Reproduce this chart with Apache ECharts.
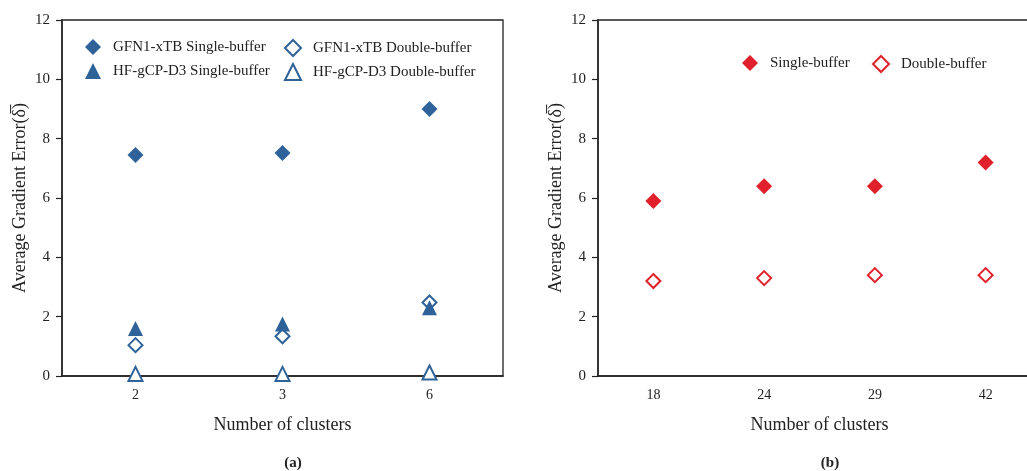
<!DOCTYPE html>
<html><head><meta charset="utf-8">
<script src="https://cdn.jsdelivr.net/npm/echarts@6/dist/echarts.min.js"></script>
<style>html,body{margin:0;padding:0;background:#fff}#c{width:1027px;height:471px}</style>
</head><body><div id="c"></div>
<script>
const catsA = ['2', '3', '6'];
const gfnSingle = [7.45, 7.52, 9.0];
const gfnDouble = [1.04, 1.34, 2.48];
const hfSingle = [1.6, 1.75, 2.3];
const hfDouble = [0.07, 0.07, 0.12];
const catsB = ['18', '24', '29', '42'];
const bSingle = [5.9, 6.4, 6.4, 7.2];
const bDouble = [3.2, 3.3, 3.4, 3.4];
const yTicks = [0, 2, 4, 6, 8, 10, 12];

const FONT = "'Liberation Serif', 'Times New Roman', serif";
const BLUE = '#2f6299';
const RED = '#e0202a';
const yName = 'Average Gradient Error(\u03B4\u0305)';

function xAx(idx, cats) {
  return {
    type: 'category', gridIndex: idx, data: cats, boundaryGap: true,
    name: 'Number of clusters', nameLocation: 'middle', nameGap: 40,
    nameTextStyle: {fontFamily: FONT, fontSize: 18, color: '#222'},
    axisLine: {lineStyle: {color: '#222', width: 1.5}},
    axisTick: {alignWithLabel: true, length: 5, lineStyle: {color: '#222', width: 1.2}},
    axisLabel: {fontFamily: FONT, fontSize: 14, color: '#222', margin: 12},
    splitLine: {show: false}
  };
}
function yAx(idx) {
  return {
    type: 'value', gridIndex: idx, min: 0, max: 12, interval: 2,
    name: yName, nameLocation: 'middle', nameGap: 33, nameRotate: 90,
    nameTextStyle: {fontFamily: FONT, fontSize: 18, color: '#222'},
    axisLine: {show: true, lineStyle: {color: '#222', width: 1.5}},
    axisTick: {show: true, length: 6, lineStyle: {color: '#222', width: 1.2}},
    axisLabel: {fontFamily: FONT, fontSize: 15, color: '#222', margin: 12,
      formatter: v => yTicks.includes(v) ? String(v) : ''},
    splitLine: {show: false}
  };
}
function leg(name, left, top) {
  return {data: [name], left: left, top: top, itemWidth: 16, itemHeight: 16, itemGap: 10,
    textStyle: {fontFamily: FONT, fontSize: 15, color: '#222', padding: [0, 0, 0, 7]}, padding: 0};
}
const chart = echarts.init(document.getElementById('c'), null, {renderer: 'canvas'});
chart.setOption({
  animation: false,
  backgroundColor: '#fff',
  grid: [
    {left: 62, top: 20, width: 441, height: 356, outerBoundsMode: 'none', show: true, borderColor: '#222', borderWidth: 1.3, backgroundColor: 'transparent'},
    {left: 598, top: 20, width: 443, height: 356, outerBoundsMode: 'none', show: true, borderColor: '#222', borderWidth: 1.3, backgroundColor: 'transparent'}
  ],
  xAxis: [xAx(0, catsA), xAx(1, catsB)],
  yAxis: [yAx(0), yAx(1)],
  title: [
    {text: '(a)', left: 288, top: 451, textAlign: 'center', textStyle: {fontFamily: FONT, fontSize: 15, fontWeight: 'bold', color: '#222'}},
    {text: '(b)', left: 825, top: 451, textAlign: 'center', textStyle: {fontFamily: FONT, fontSize: 15, fontWeight: 'bold', color: '#222'}}
  ],
  legend: [
    leg('GFN1-xTB Single-buffer', 85, 39),
    leg('GFN1-xTB Double-buffer', 284, 39),
    leg('HF-gCP-D3 Single-buffer', 85, 63),
    leg('HF-gCP-D3 Double-buffer', 284, 63),
    leg('Single-buffer', 742, 55),
    leg('Double-buffer', 872, 55)
  ],
  series: [
    {name: 'GFN1-xTB Single-buffer', type: 'scatter', xAxisIndex: 0, yAxisIndex: 0, data: gfnSingle,
      symbol: 'diamond', symbolSize: 16, itemStyle: {color: BLUE, opacity: 1}},
    {name: 'GFN1-xTB Double-buffer', type: 'scatter', xAxisIndex: 0, yAxisIndex: 0, data: gfnDouble,
      symbol: 'emptyDiamond', symbolSize: 14, itemStyle: {color: BLUE, borderColor: BLUE, borderWidth: 2, opacity: 1}},
    {name: 'HF-gCP-D3 Single-buffer', type: 'scatter', xAxisIndex: 0, yAxisIndex: 0, data: hfSingle,
      symbol: 'triangle', symbolSize: 15, itemStyle: {color: BLUE, opacity: 1}},
    {name: 'HF-gCP-D3 Double-buffer', type: 'scatter', xAxisIndex: 0, yAxisIndex: 0, data: hfDouble,
      symbol: 'emptyTriangle', symbolSize: 14, itemStyle: {color: BLUE, borderColor: BLUE, borderWidth: 2, opacity: 1}},
    {name: 'Single-buffer', type: 'scatter', xAxisIndex: 1, yAxisIndex: 1, data: bSingle,
      symbol: 'diamond', symbolSize: 16, itemStyle: {color: RED, opacity: 1}},
    {name: 'Double-buffer', type: 'scatter', xAxisIndex: 1, yAxisIndex: 1, data: bDouble,
      symbol: 'emptyDiamond', symbolSize: 14, itemStyle: {color: RED, borderColor: RED, borderWidth: 1.5, opacity: 1}}
  ]
});
</script></body></html>
